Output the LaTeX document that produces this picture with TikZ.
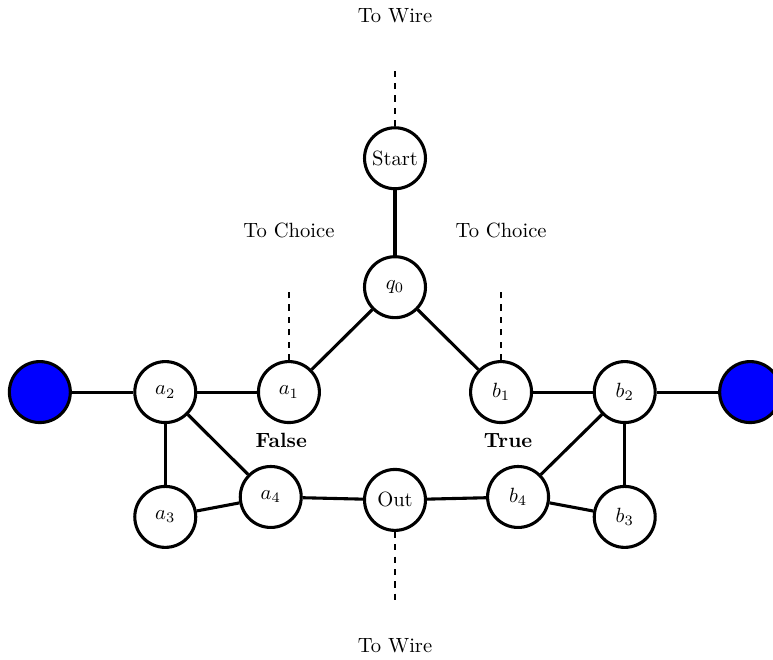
\documentclass[tikz,border=0pt]{standalone}
\usepackage{xcolor}
\usepackage{amsmath}
\usepackage{tikz}
\usetikzlibrary{shapes,positioning}
\tikzset{
    state/.style={draw, circle, line width=1.5pt, minimum size=1.04cm, inner sep=0pt, fill=white},
    port/.style={draw, circle, line width=1.5pt, minimum size=1.04cm, fill=blue},
    wire/.style={line width=1.5pt},
    loose/.style={dashed, line width=0.8pt}
}

\begin{document}
\begin{tikzpicture}
        \useasboundingbox (-6.74,-6.35) rectangle (6.45,4.90);

        \node[state] (start) at (0,2.20) {Start};
        \node[state] (q0) at (0,0) {$q_0$};
        \node[state] (a1) at (-1.81,-1.79) {$a_1$};
        \node[state] (b1) at (1.81,-1.79) {$b_1$};
        \node[state] (a2) at (-3.92,-1.79) {$a_2$};
        \node[state] (b2) at (3.92,-1.79) {$b_2$};
        \node[port] (left) at (-6.06,-1.79) {};
        \node[port] (right) at (6.06,-1.79) {};
        \node[state] (a3) at (-3.92,-3.92) {$a_3$};
        \node[state] (b3) at (3.92,-3.92) {$b_3$};
        \node[state] (a4) at (-2.12,-3.58) {$a_4$};
        \node[state] (b4) at (2.10,-3.58) {$b_4$};
        \node[state] (out) at (0,-3.63) {Out};

        \coordinate (wiretop) at (0,3.80);
        \coordinate (choicea) at (-1.81,-0.07);
        \coordinate (choiceb) at (1.81,-0.07);
        \coordinate (wirebot) at (0,-5.39);

        \draw[wire] (start) -- (q0);
        \draw[wire] (q0) -- (a1);
        \draw[wire] (q0) -- (b1);
        \draw[wire] (a1) -- (a2);
        \draw[wire] (a2) -- (left);
        \draw[wire] (a2) -- (a3);
        \draw[wire] (a2) -- (a4);
        \draw[wire] (a3) -- (a4);
        \draw[wire] (a4) -- (out);
        \draw[wire] (out) -- (b4);
        \draw[wire] (b4) -- (b3);
        \draw[wire] (b4) -- (b2);
        \draw[wire] (b2) -- (b3);
        \draw[wire] (b1) -- (b2);
        \draw[wire] (b2) -- (right);

        \draw[loose] (start) -- (wiretop);
        \draw[loose] (a1) -- (choicea);
        \draw[loose] (b1) -- (choiceb);
        \draw[loose] (out) -- (wirebot);

        \node at (0,4.64) {To Wire};
        \node at (-1.81,0.97) {To Choice};
        \node at (1.81,0.97) {To Choice};
        \node at (-1.94,-2.61) {\textbf{False}};
        \node at (1.93,-2.61) {\textbf{True}};
        \node at (0,-6.11) {To Wire};
    \end{tikzpicture}
\end{document}
